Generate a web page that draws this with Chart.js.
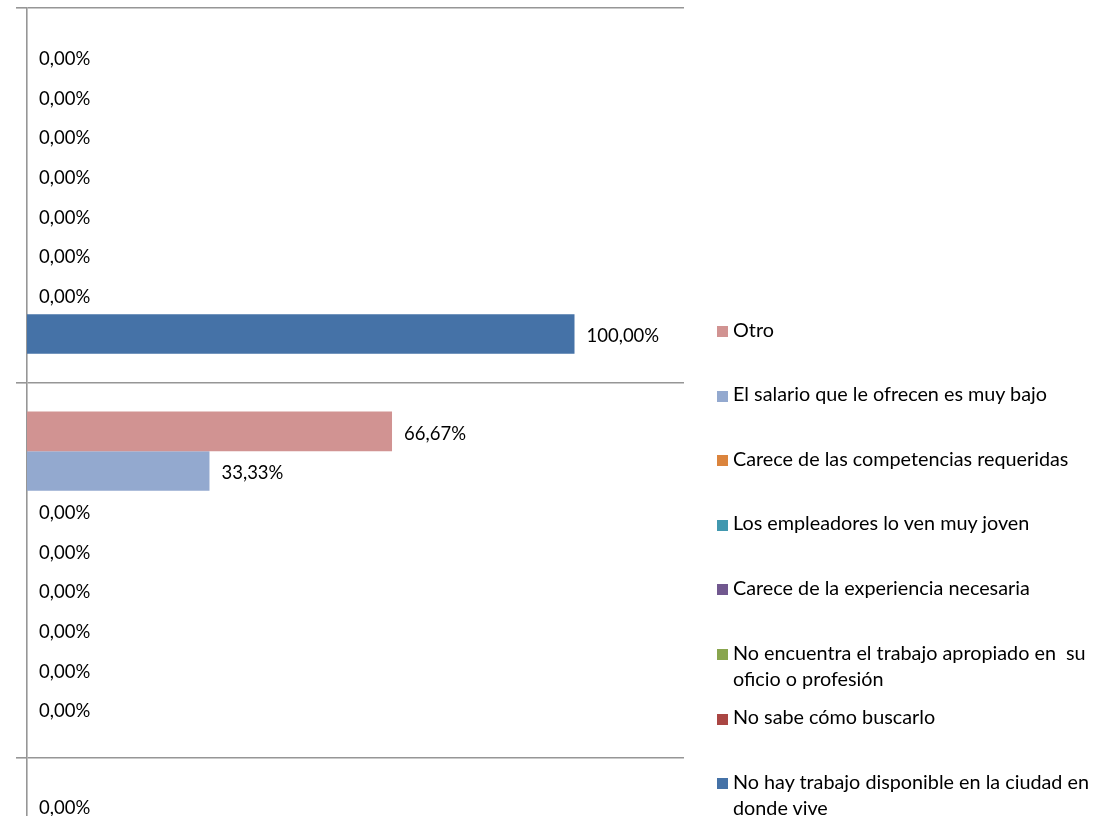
<!DOCTYPE html>
<html>
<head>
<meta charset="utf-8">
<script src="https://cdn.jsdelivr.net/npm/chart.js@4/dist/chart.umd.min.js"></script>
<style>
  html, body { margin: 0; padding: 0; background: #fff; overflow: hidden; }
  #wrap { position: relative; width: 1097px; height: 816px; overflow: hidden; }
  #chartBox { position: absolute; left: 0; top: 0; width: 1097px; height: 1160px; }
  #legend { position: absolute; left: 717px; top: 0; width: 380px; font-family: Lato, sans-serif; font-size: 19.8px; color: #000; }
  .item { position: absolute; left: 0; display: flex; align-items: flex-start; line-height: 26px; }
  .sw { width: 11px; height: 11px; margin-top: 10.5px; flex: none; }
  .tx { margin-left: 5px; width: 362px; white-space: pre-wrap; }
</style>
</head>
<body>
<div id="wrap">
  <div id="chartBox"><canvas id="c"></canvas></div>
  <div id="legend"></div>
</div>
<script>
// Categories (labels are outside the visible picture)
const categories = ["Grupo 1", "Grupo 2", "Grupo 3"];

// Series names (top-to-bottom order inside each category, same as legend)
const seriesNames = [
  "Otro",
  "El salario que le ofrecen es muy bajo",
  "Carece de las competencias requeridas",
  "Los empleadores lo ven muy joven",
  "Carece de la experiencia necesaria",
  "No encuentra el trabajo apropiado en  su oficio o profesión",
  "No sabe cómo buscarlo",
  "No hay trabajo disponible en la ciudad en donde vive"
];

const seriesColors = ["#D19392", "#93A9CF", "#DB843D", "#4198AF", "#71588F", "#89A54E", "#AA4643", "#4572A7"];

// Values in percent, per series, per category
const otro          = [0, 66.67, 0];
const salarioBajo   = [0, 33.33, 0];
const competencias  = [0, 0, 0];
const muyJoven      = [0, 0, 0];
const experiencia   = [0, 0, 0];
const noEncuentra   = [0, 0, 0];
const noSabe        = [0, 0, 0];
const noHayTrabajo  = [100, 0, 100];

const seriesValues = [otro, salarioBajo, competencias, muyJoven, experiencia, noEncuentra, noSabe, noHayTrabajo];

const xMax = 120;

const labelPlugin = {
  id: 'valueLabels',
  afterDatasetsDraw(chart) {
    const ctx = chart.ctx;
    ctx.save();
    ctx.font = '18.5px Lato, sans-serif';
    ctx.fillStyle = '#000';
    ctx.textAlign = 'left';
    ctx.textBaseline = 'middle';
    chart.data.datasets.forEach((ds, i) => {
      const meta = chart.getDatasetMeta(i);
      meta.data.forEach((el, j) => {
        const v = ds.data[j];
        const txt = v.toFixed(2).replace('.', ',') + '%';
        ctx.fillText(txt, el.x + 12, el.y + 2.5);
      });
    });
    ctx.restore();
  }
};

new Chart(document.getElementById('c'), {
  type: 'bar',
  data: {
    labels: categories,
    datasets: seriesNames.map((n, i) => ({
      label: n,
      data: seriesValues[i],
      backgroundColor: seriesColors[i],
      borderWidth: 0,
      categoryPercentage: 0.846,
      barPercentage: 1.0
    }))
  },
  options: {
    indexAxis: 'y',
    responsive: true,
    maintainAspectRatio: false,
    animation: false,
    layout: { padding: { left: 16, top: 8, right: 413, bottom: 28 } },
    plugins: { legend: { display: false }, tooltip: { enabled: false } },
    scales: {
      x: { display: false, min: 0, max: xMax },
      y: {
        display: true,
        offset: true,
        ticks: { display: false },
        grid: { display: true, offset: true, color: '#969696', lineWidth: 1.6, tickLength: 11, drawTicks: true },
        border: { display: true, color: '#969696', width: 1.6 }
      }
    }
  },
  plugins: [labelPlugin]
});

// HTML legend
const lg = document.getElementById('legend');
seriesNames.forEach((n, i) => {
  const it = document.createElement('div');
  it.className = 'item';
  it.style.top = (315.5 + i * 64.6) + 'px';
  const sw = document.createElement('div');
  sw.className = 'sw';
  sw.style.background = seriesColors[i];
  const tx = document.createElement('div');
  tx.className = 'tx';
  tx.textContent = n;
  it.appendChild(sw);
  it.appendChild(tx);
  lg.appendChild(it);
});
</script>
</body>
</html>
